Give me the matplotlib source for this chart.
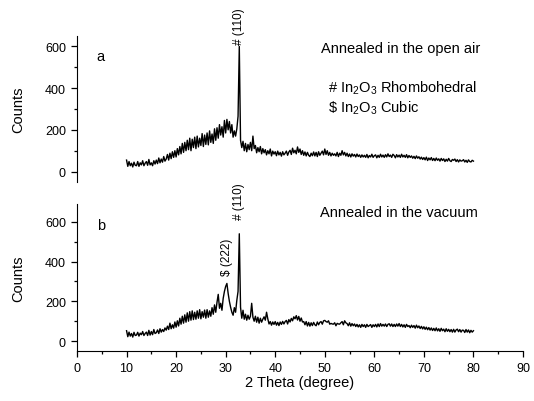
import matplotlib
matplotlib.use("Agg")
import matplotlib.pyplot as plt
import numpy as np
from matplotlib.ticker import MultipleLocator

plt.rcParams["font.family"] = ["Liberation Sans", "DejaVu Sans"]
plt.rcParams["mathtext.fontset"] = "custom"
plt.rcParams["mathtext.rm"] = "Liberation Sans"
plt.rcParams["mathtext.it"] = "Liberation Sans:italic"

# 2 theta grid, 10..80 deg in 0.25 deg steps
two_theta = np.arange(10.0, 80.001, 0.25)

# (a) annealed in open air
counts_air = [
    55, 25, 48, 28, 40, 22, 45, 30,
    28, 48, 25, 42, 32, 52, 28, 40,
    48, 30, 58, 32, 42, 28, 52, 36,
    55, 38, 65, 42, 60, 45, 72, 50,
    60, 82, 55, 88, 62, 95, 68, 100,
    70, 110, 80, 120, 85, 135, 92, 140,
    100, 150, 105, 160, 100, 155, 115, 165,
    110, 170, 118, 160, 125, 182, 120, 175,
    130, 185, 128, 195, 140, 180, 135, 205,
    150, 210, 160, 225, 175, 215, 165, 245,
    185, 250, 200, 240, 185, 225, 165, 195,
    170, 205, 265, 600, 150, 115, 145, 100,
    135, 95, 130, 105, 140, 100, 170, 110,
    125, 90, 115, 95, 120, 85, 110, 90,
    105, 80, 100, 85, 108, 75, 98, 84,
    95, 76, 98, 80, 92, 74, 95, 80,
    88, 98, 78, 94, 102, 82, 112, 90,
    102, 85, 118, 92, 108, 82, 100, 78,
    94, 75, 92, 78, 72, 88, 76, 94,
    75, 92, 72, 95, 78, 88, 98, 80,
    108, 82, 100, 78, 92, 75, 88, 78,
    85, 75, 92, 72, 88, 78, 100, 80,
    92, 75, 88, 72, 84, 70, 85, 74,
    82, 70, 84, 72, 80, 68, 80, 70,
    78, 68, 82, 66, 77, 70, 83, 68,
    76, 80, 66, 78, 68, 83, 70, 79,
    68, 81, 70, 85, 72, 79, 68, 83,
    77, 66, 81, 70, 79, 68, 83, 70,
    78, 68, 81, 66, 77, 68, 75, 64,
    73, 62, 75, 64, 71, 60, 69, 58,
    67, 56, 69, 53, 65, 56, 67, 53,
    63, 52, 65, 54, 61, 50, 63, 53,
    61, 48, 59, 50, 63, 52, 48, 58,
    54, 60, 48, 57, 46, 56, 50, 52,
    57, 46, 54, 44, 56, 48, 46, 54,
    50,
]

# (b) annealed in vacuum
counts_vac = [
    52, 22, 45, 25, 38, 20, 44, 28,
    30, 44, 25, 40, 32, 48, 28, 38,
    45, 28, 54, 30, 48, 32, 58, 38,
    42, 56, 38, 62, 45, 58, 48, 66,
    55, 75, 58, 90, 62, 82, 65, 96,
    70, 102, 76, 115, 85, 125, 90, 132,
    95, 142, 100, 148, 105, 152, 108, 145,
    110, 152, 115, 158, 112, 148, 120, 156,
    115, 158, 120, 152, 125, 168, 135, 182,
    145, 195, 235, 165, 190, 155, 215, 250,
    275, 290, 240, 200, 170, 145, 130, 168,
    145, 205, 250, 540, 170, 115, 155, 110,
    135, 105, 130, 110, 125, 190, 120, 100,
    125, 95, 120, 90, 115, 95, 110, 122,
    105, 145, 112, 86, 98, 80, 96, 84,
    98, 80, 94, 78, 96, 84, 99, 86,
    98, 104, 86, 108, 96, 114, 102, 122,
    112, 128, 106, 124, 100, 116, 96, 98,
    82, 98, 76, 94, 75, 92, 78, 94,
    82, 77, 96, 82, 94, 98, 85, 102,
    104, 98, 95, 102, 85, 89, 86, 85,
    92, 77, 89, 86, 85, 92, 98, 82,
    102, 92, 88, 77, 92, 75, 88, 77,
    86, 73, 84, 71, 82, 69, 84, 73,
    82, 69, 84, 73, 78, 83, 69, 82,
    73, 84, 71, 86, 73, 88, 75, 84,
    75, 86, 73, 84, 87, 75, 86, 73,
    84, 73, 86, 75, 88, 73, 84, 71,
    82, 69, 84, 73, 78, 67, 80, 69,
    78, 65, 80, 67, 76, 63, 74, 61,
    72, 59, 70, 57, 68, 55, 66, 53,
    64, 52, 66, 51, 62, 49, 64, 52,
    60, 47, 62, 49, 59, 47, 58, 45,
    59, 45, 56, 60, 47, 58, 45, 55,
    54, 43, 58, 45, 56, 42, 54, 45,
    52,
]

fig = plt.figure(figsize=(5.34, 4.02), dpi=100)
ax_a = fig.add_axes([0.1442, 0.5448, 0.8352, 0.3632])
ax_b = fig.add_axes([0.1442, 0.1244, 0.8352, 0.3657])

for ax in (ax_a, ax_b):
    ax.set_xlim(0, 90)
    for side in ("top", "right"):
        ax.spines[side].set_visible(False)
    ax.yaxis.set_major_locator(MultipleLocator(200))
    ax.yaxis.set_minor_locator(MultipleLocator(100))
    ax.xaxis.set_major_locator(MultipleLocator(10))
    ax.xaxis.set_minor_locator(MultipleLocator(5))
    ax.tick_params(which="major", direction="out", length=4.5, width=0.9, labelsize=9, colors="black")
    ax.tick_params(which="minor", direction="out", length=2.5, width=0.9)
    ax.set_ylabel("Counts", fontsize=10.5)
    ax.yaxis.set_label_coords(-0.115, 0.5)

ax_a.spines["bottom"].set_visible(False)
ax_a.tick_params(axis="x", which="both", bottom=False, labelbottom=False)
ax_a.set_ylim(-50, 650)
ax_b.set_ylim(-50, 690)

ax_a.plot(two_theta, counts_air, color="black", lw=1.0)
ax_b.plot(two_theta, counts_vac, color="black", lw=1.0)

ax_b.set_xlabel("2 Theta (degree)", fontsize=10.5, labelpad=1)

# annotations, panel a
ax_a.text(4.0, 552, "a", fontsize=10.5, va="center")
ax_a.text(32.75, 612, "# (110)", rotation=90, fontsize=8.5, ha="center", va="bottom")
ax_a.text(49.3, 590, "Annealed in the open air", fontsize=10.5, va="center")
ax_a.text(50.6, 405, r"# In$_2$O$_3$ Rhombohedral", fontsize=10.5, va="center")
ax_a.text(50.6, 310, r"\$ In$_2$O$_3$ Cubic", fontsize=10.5, va="center")

# annotations, panel b
ax_b.text(4.0, 585, "b", fontsize=10.5, va="center")
ax_b.text(30.2, 335, "$ (222)", rotation=90, fontsize=8.5, ha="center", va="bottom")
ax_b.text(32.75, 612, "# (110)", rotation=90, fontsize=8.5, ha="center", va="bottom")
ax_b.text(49.0, 650, "Annealed in the vacuum", fontsize=10.5, va="center")

fig.savefig("out.png", dpi=100)
